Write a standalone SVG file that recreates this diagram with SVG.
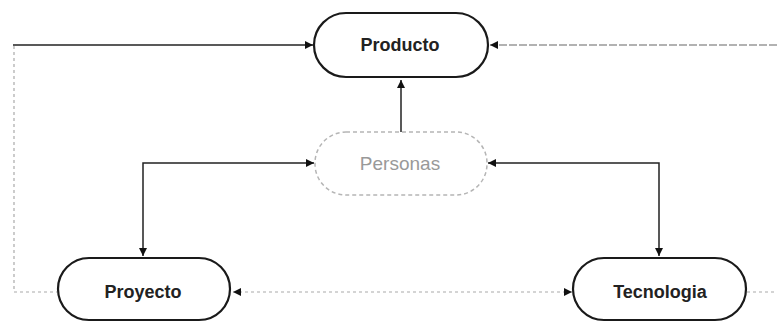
<svg xmlns="http://www.w3.org/2000/svg" width="777" height="322" viewBox="0 0 777 322">
<style>
.node{fill:#fff;stroke:#1a1a1a;stroke-width:2.2}
.ghost{fill:#fff;stroke:#b5b5b5;stroke-width:1.5;stroke-dasharray:4 3}
.lbl{font-family:"Liberation Sans",Arial,sans-serif;font-size:18px;font-weight:bold;fill:#222;text-anchor:middle;dominant-baseline:central}
.glbl{font-family:"Liberation Sans",Arial,sans-serif;font-size:19px;fill:#999;text-anchor:middle;dominant-baseline:central}
.c{fill:none;stroke:#222;stroke-width:1.5}
.d{fill:none;stroke:#aaa;stroke-width:1.2;stroke-dasharray:3 3}
</style>
<defs>
<marker id="ah" viewBox="0 0 10 10" refX="10" refY="5" markerWidth="8" markerHeight="8" orient="auto-start-reverse" markerUnits="userSpaceOnUse">
<path d="M0,0 L10,5 L0,10 z" fill="#111"/>
</marker>
</defs>
<g id="connectors">
<path class="c" d="M13,45 H313" marker-end="url(#ah)"/>
<path class="d" d="M777,45 H490" style="stroke:#666;stroke-dasharray:8 2"/>
<path class="c" d="M777,45 H490" stroke-opacity="0" marker-end="url(#ah)"/>
<path class="c" d="M401,132 V80" marker-end="url(#ah)"/>
<path class="c" d="M143,256 V163 H314" marker-start="url(#ah)" marker-end="url(#ah)"/>
<path class="c" d="M488,163 H659 V256" marker-start="url(#ah)" marker-end="url(#ah)"/>
<path class="d" d="M14,46 V292 H57"/>
<path class="d" d="M233,292 H572"/>
<path class="c" d="M233,292 H572" stroke-opacity="0" marker-start="url(#ah)" marker-end="url(#ah)"/>
<path class="d" d="M747,292 H777"/>
</g>
<g id="producto">
<rect class="node" x="314" y="13" width="174" height="64" rx="32"/>
<text class="lbl" x="400" y="45">Producto</text>
</g>
<g id="personas">
<rect class="ghost" x="315" y="132" width="172" height="63" rx="31"/>
<text class="glbl" x="400" y="163">Personas</text>
</g>
<g id="proyecto">
<rect class="node" x="58" y="258" width="172" height="62" rx="31"/>
<text class="lbl" x="143" y="292">Proyecto</text>
</g>
<g id="tecnologia">
<rect class="node" x="573" y="258" width="173" height="62" rx="31"/>
<text class="lbl" x="660" y="292">Tecnologia</text>
</g>
</svg>
